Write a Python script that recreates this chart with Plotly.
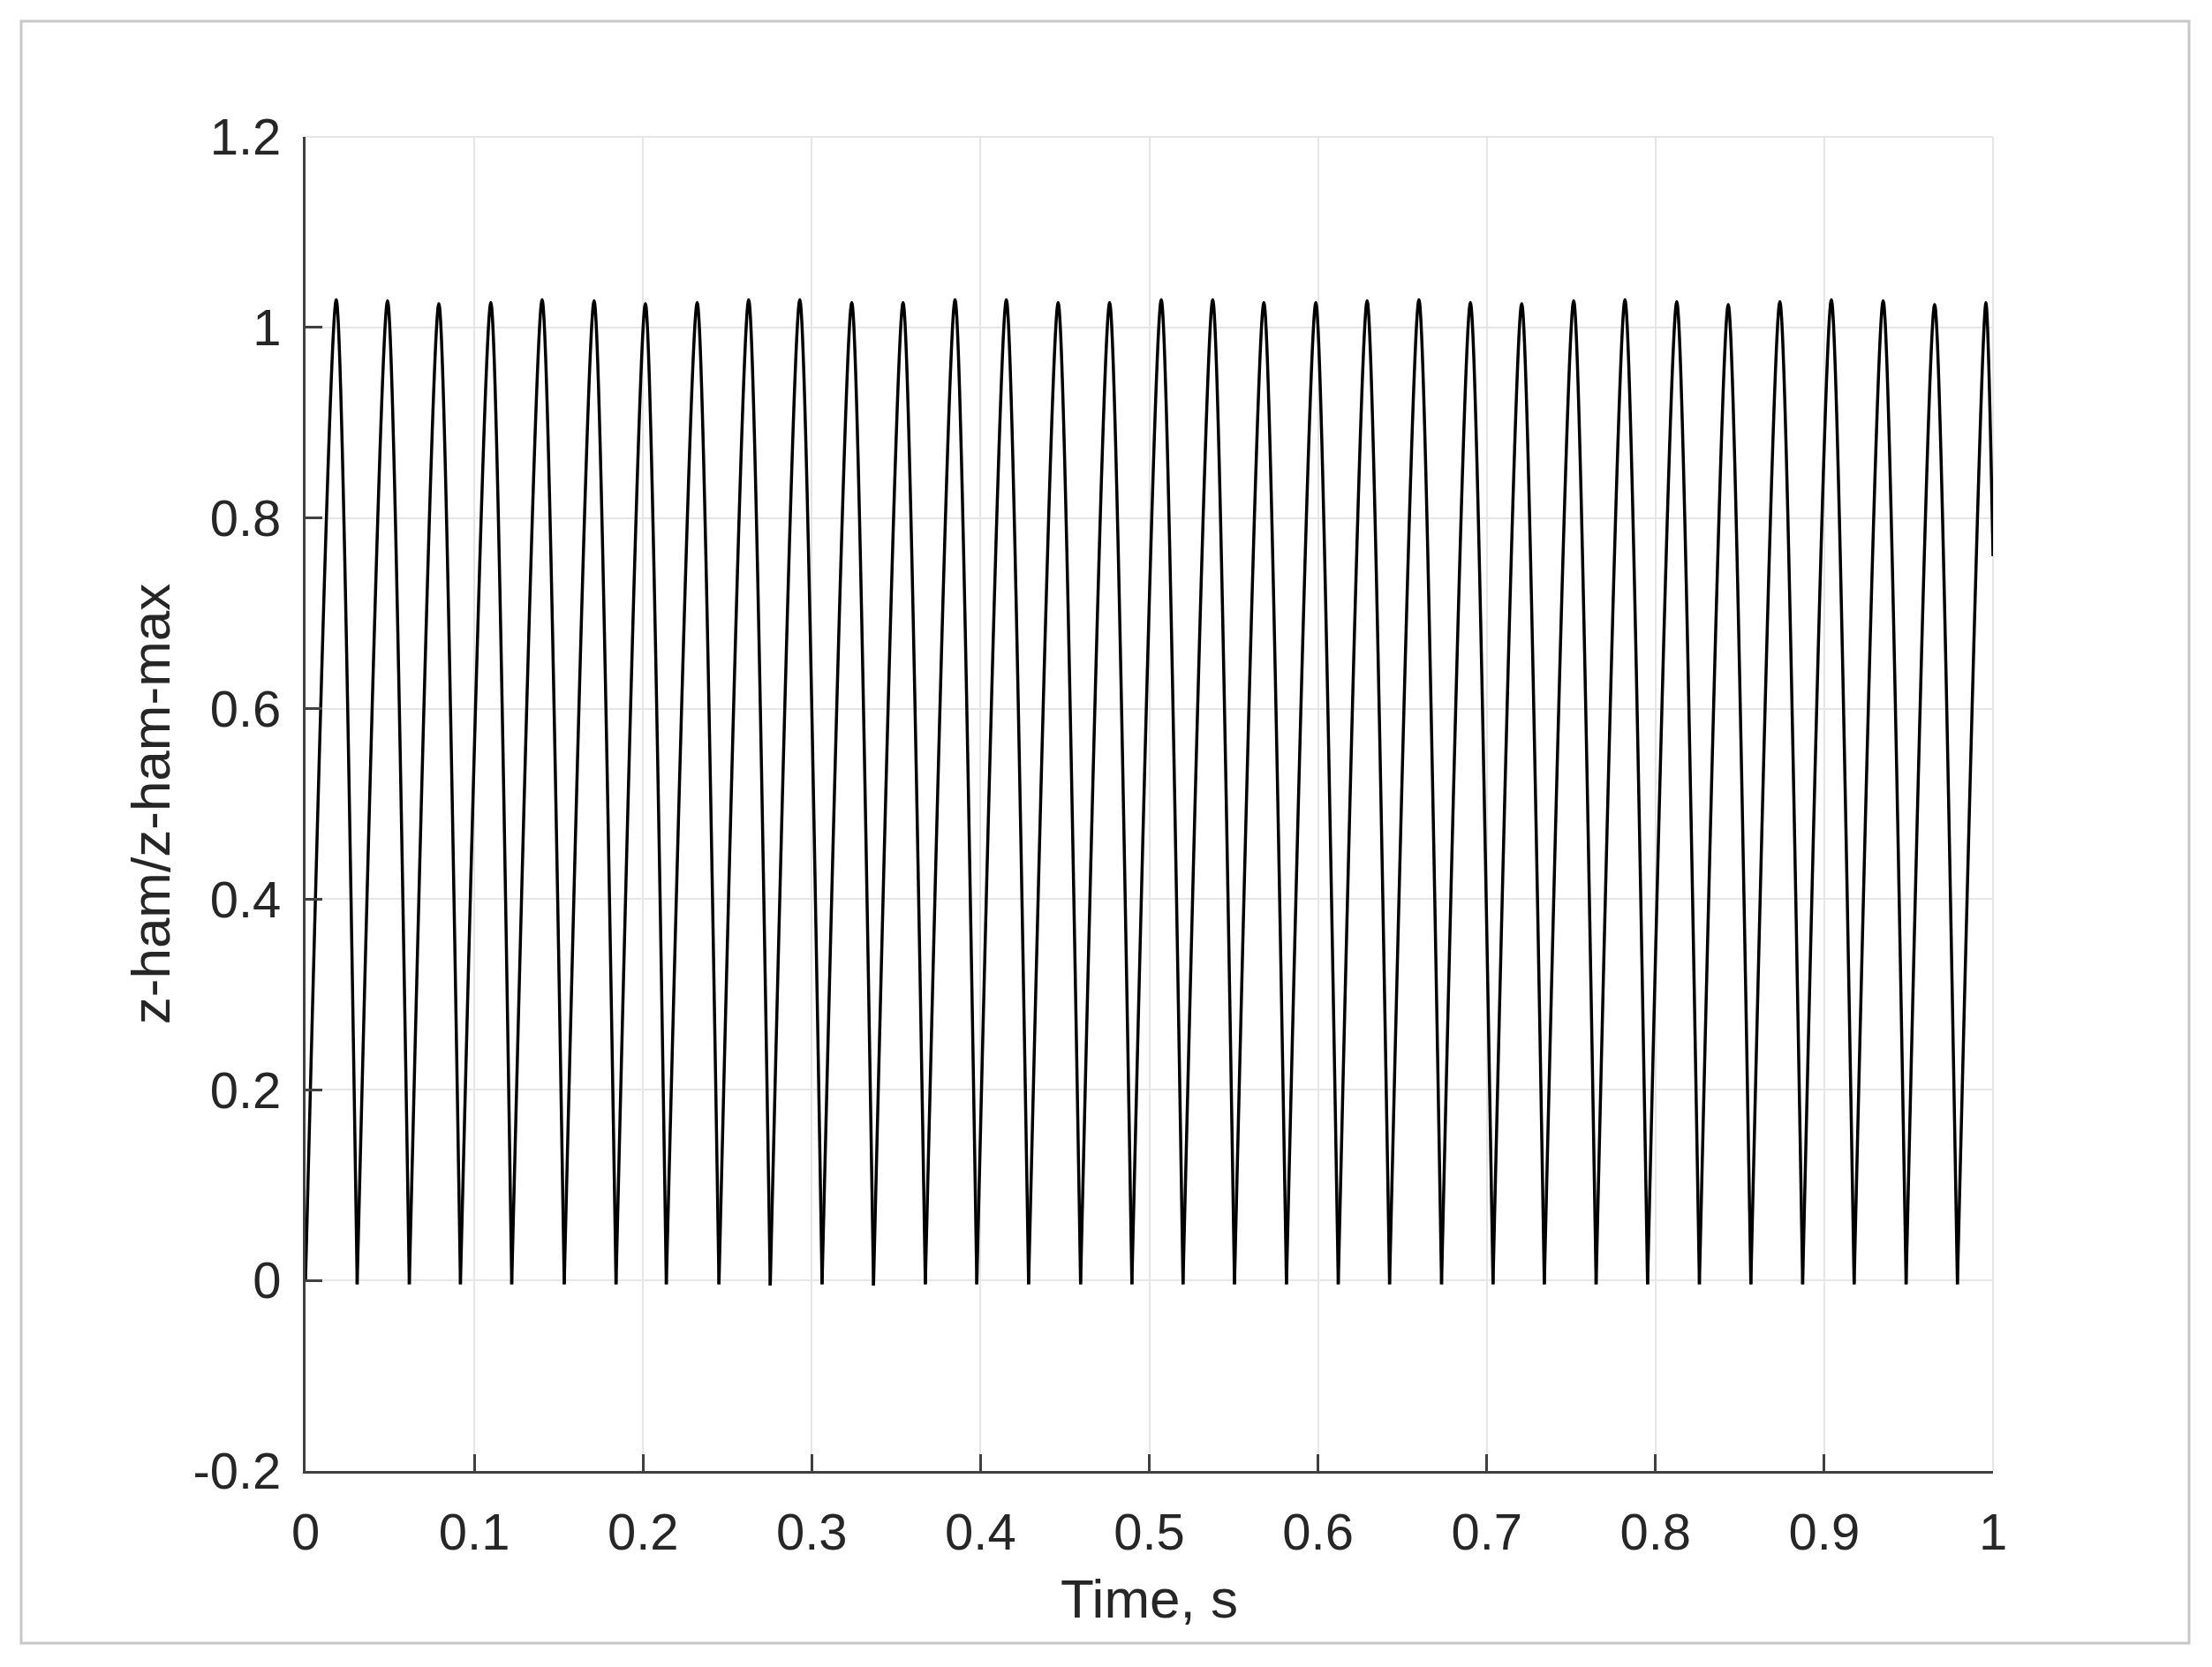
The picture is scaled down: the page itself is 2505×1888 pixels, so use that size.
import plotly.graph_objects as go

# ---- data ----
start_time = 0.0
start_value = 0.0
end_time = 1.0
end_value = 0.76

peak_times = [0.0182, 0.0486, 0.0790, 0.1098, 0.1402, 0.1710, 0.2014, 0.2321,
              0.2626, 0.2929, 0.3237, 0.3541, 0.3849, 0.4153, 0.4460, 0.4765,
              0.5071, 0.5376, 0.5679, 0.5987, 0.6291, 0.6598, 0.6903, 0.7207,
              0.7515, 0.7819, 0.8126, 0.8431, 0.8737, 0.9042, 0.9349, 0.9654,
              0.9958]
peak_values = [1.029, 1.028, 1.025, 1.026, 1.029, 1.028, 1.025, 1.026,
               1.029, 1.029, 1.026, 1.026, 1.029, 1.029, 1.026, 1.026,
               1.029, 1.029, 1.026, 1.026, 1.028, 1.029, 1.026, 1.025,
               1.028, 1.029, 1.027, 1.024, 1.027, 1.029, 1.028, 1.024,
               1.026]

trough_times = [0.0306, 0.0615, 0.0918, 0.1222, 0.1533, 0.1840, 0.2138, 0.2450,
                0.2754, 0.3061, 0.3366, 0.3673, 0.3978, 0.4285, 0.4593, 0.4897,
                0.5200, 0.5505, 0.5813, 0.6120, 0.6424, 0.6732, 0.7037, 0.7341,
                0.7648, 0.7953, 0.8260, 0.8565, 0.8872, 0.9177, 0.9485, 0.9789]
trough_values = [-0.004, -0.004, -0.004, -0.004, -0.004, -0.004, -0.004, -0.004,
                 -0.0055, -0.004, -0.0055, -0.004, -0.004, -0.004, -0.004, -0.004,
                 -0.004, -0.004, -0.004, -0.004, -0.004, -0.004, -0.004, -0.004,
                 -0.004, -0.004, -0.004, -0.004, -0.004, -0.004, -0.004, -0.004]

x_tick_vals = [0, 0.1, 0.2, 0.3, 0.4, 0.5, 0.6, 0.7, 0.8, 0.9, 1]
x_tick_text = ["0", "0.1", "0.2", "0.3", "0.4", "0.5", "0.6", "0.7", "0.8", "0.9", "1"]
y_tick_vals = [-0.2, 0, 0.2, 0.4, 0.6, 0.8, 1.0, 1.2]
y_tick_text = ["-0.2", "0", "0.2", "0.4", "0.6", "0.8", "1", "1.2"]

x_title = "Time, s"
y_title = "z-ham/z-ham-max"

# ---- build the curve: one smooth arch per cycle, sharp joins at the troughs ----
lows_t = [start_time] + trough_times + [end_time]
lows_v = [start_value] + trough_values + [end_value]
t, v = [], []
for i, (pt, pv) in enumerate(zip(peak_times, peak_values)):
    t += [lows_t[i], pt, lows_t[i + 1], None]
    v += [lows_v[i], pv, lows_v[i + 1], None]

FONT = "Liberation Sans, Arial, Helvetica, sans-serif"
AXC = "#404040"
GRID = "#e6e6e6"

fig = go.Figure()
fig.add_trace(go.Scatter(x=t, y=v, mode="lines", connectgaps=False,
                         line=dict(color="#000000", width=3.5, shape="spline", smoothing=0.7),
                         showlegend=False, hoverinfo="skip"))

# page body adds an 8 px offset; margins below are in figure coordinates
OFF = 8
W, H = 2505, 1888
L, T = 346 - OFF, 155 - OFF
R = W - (2257 - OFF)
B = H - (1666 - OFF)

fig.update_layout(
    width=W, height=H,
    margin=dict(l=L, r=R, t=T, b=B, pad=0),
    paper_bgcolor="white", plot_bgcolor="white",
    font=dict(family=FONT, size=58, color="#262626"),
    xaxis=dict(
        range=[0, 1], tickmode="array", tickvals=x_tick_vals, ticktext=x_tick_text,
        showgrid=True, gridcolor=GRID, gridwidth=2,
        zeroline=False, showline=True, linecolor=AXC, linewidth=3,
        ticks="inside", ticklen=19, tickwidth=3, tickcolor=AXC,
        ticklabelstandoff=16,
        title=dict(text=x_title, font=dict(size=62, color="#262626"), standoff=24),
        mirror=False,
    ),
    yaxis=dict(
        range=[-0.2, 1.2], tickmode="array", tickvals=y_tick_vals, ticktext=y_tick_text,
        showgrid=True, gridcolor=GRID, gridwidth=2,
        zeroline=False, showline=True, linecolor=AXC, linewidth=3,
        ticks="inside", ticklen=19, tickwidth=3, tickcolor=AXC,
        ticklabelstandoff=13,
        title=dict(text=y_title, font=dict(size=62, color="#262626"), standoff=6),
        mirror=False,
    ),
)

# grid lines along the top and right edges of the plot box
fig.add_shape(type="line", xref="paper", yref="paper", x0=0, x1=1, y0=1, y1=1,
              line=dict(color=GRID, width=2), layer="below")
fig.add_shape(type="line", xref="paper", yref="paper", x0=1, x1=1, y0=0, y1=1,
              line=dict(color=GRID, width=2), layer="below")

# light gray outer frame of the figure window
pw, ph = W - L - R, H - T - B
fig.add_shape(type="rect", xref="paper", yref="paper",
              x0=(24 - OFF - L) / pw, x1=(2479 - OFF - L) / pw,
              y0=(H - B - (1861 - OFF)) / ph, y1=(H - B - (24 - OFF)) / ph,
              line=dict(color="#c8c8c8", width=3), fillcolor="rgba(0,0,0,0)",
              layer="below")

fig.write_html("out.html")
